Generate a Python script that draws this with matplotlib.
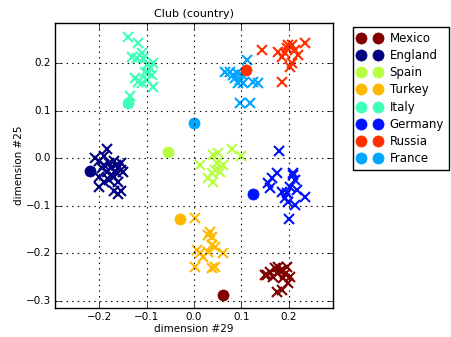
import matplotlib
matplotlib.use("Agg")
import matplotlib.pyplot as plt
import numpy as np

# country order in the legend
countries = ["Mexico", "England", "Spain", "Turkey", "Italy", "Germany", "Russia", "France"]
# position on the jet colormap (0..7 of 8 steps)
color_idx = [7, 0, 4, 5, 3, 1, 6, 2]

# country centroids (dimension #29, dimension #25)
center_x = [0.061, -0.22, -0.055, -0.03, -0.14, 0.124, 0.11, 0.0]
center_y = [-0.288, -0.027, 0.013, -0.127, 0.115, -0.075, 0.185, 0.074]

# clubs per country
mexico_x = [0.15, 0.16, 0.171, 0.178, 0.188, 0.196, 0.175, 0.155, 0.188, 0.203, 0.199, 0.175, 0.186, 0.167, 0.182, 0.193]
mexico_y = [-0.246, -0.24, -0.231, -0.229, -0.235, -0.229, -0.242, -0.245, -0.252, -0.25, -0.263, -0.281, -0.277, -0.25, -0.238, -0.244]

england_x = [-0.21, -0.2, -0.19, -0.185, -0.18, -0.175, -0.17, -0.165, -0.16, -0.155, -0.15, -0.2, -0.195,
             -0.19, -0.2, -0.18, -0.17, -0.16, -0.17, -0.16, -0.155, -0.185, -0.175, -0.165, -0.19, -0.155]
england_y = [0.0, -0.005, 0.005, 0.02, -0.01, -0.02, -0.005, -0.015, -0.02, -0.025, -0.03, -0.04, -0.02,
             -0.05, -0.06, -0.045, -0.04, -0.05, -0.07, -0.075, -0.07, -0.03, -0.035, -0.03, -0.015, -0.01]

spain_x = [0.013, 0.04, 0.05, 0.08, 0.1, 0.049, 0.061, 0.038, 0.03, 0.04, 0.055, 0.045]
spain_y = [-0.015, 0.006, 0.01, 0.02, 0.005, -0.01, -0.015, -0.032, -0.042, -0.05, -0.03, -0.025]

turkey_x = [0.002, 0.034, 0.038, 0.03, 0.038, 0.006, 0.013, 0.019, 0.03, 0.061, 0.002, 0.038, 0.044, 0.044]
turkey_y = [-0.126, -0.155, -0.166, -0.162, -0.183, -0.193, -0.2, -0.208, -0.198, -0.2, -0.229, -0.231, -0.229, -0.187]

italy_x = [-0.14, -0.118, -0.11, -0.131, -0.12, -0.108, -0.099, -0.087, -0.093, -0.097, -0.089,
           -0.104, -0.125, -0.118, -0.11, -0.087, -0.135, -0.1]
italy_y = [0.254, 0.241, 0.22, 0.212, 0.21, 0.21, 0.195, 0.2, 0.19, 0.179, 0.174,
           0.18, 0.168, 0.16, 0.157, 0.149, 0.13, 0.164]

germany_x = [0.18, 0.175, 0.165, 0.157, 0.161, 0.186, 0.196, 0.209, 0.214, 0.203, 0.218, 0.235,
             0.192, 0.199, 0.214, 0.2, 0.21]
germany_y = [0.015, -0.032, -0.042, -0.053, -0.063, -0.071, -0.074, -0.032, -0.046, -0.061, -0.067, -0.082,
             -0.084, -0.092, -0.099, -0.128, -0.035]

russia_x = [0.144, 0.178, 0.186, 0.197, 0.207, 0.214, 0.22, 0.207, 0.203, 0.235, 0.186, 0.199, 0.192]
russia_y = [0.227, 0.223, 0.212, 0.231, 0.237, 0.227, 0.216, 0.2, 0.191, 0.242, 0.16, 0.237, 0.22]

france_x = [0.112, 0.066, 0.076, 0.091, 0.087, 0.097, 0.104, 0.093, 0.125, 0.135, 0.097, 0.118, 0.101, 0.082]
france_y = [0.206, 0.181, 0.181, 0.178, 0.168, 0.164, 0.157, 0.157, 0.16, 0.157, 0.116, 0.116, 0.174, 0.174]

clubs_x = [mexico_x, england_x, spain_x, turkey_x, italy_x, germany_x, russia_x, france_x]
clubs_y = [mexico_y, england_y, spain_y, turkey_y, italy_y, germany_y, russia_y, france_y]

plt.style.use("classic")
plt.rcParams["font.family"] = "DejaVu Sans"

fig = plt.figure(figsize=(4.51, 3.37), dpi=100, facecolor="white")
ax = fig.add_axes([55 / 451, 29 / 337, 278 / 451, 285 / 337])

colors = plt.cm.jet(np.linspace(0, 1, 8))

# clubs first, centroids on top
for i in range(len(countries)):
    ax.plot(clubs_x[i], clubs_y[i], "x", color=colors[color_idx[i]],
            markersize=7.5, markeredgewidth=1.5)

handles = []
for i, name in enumerate(countries):
    h, = ax.plot(center_x[i], center_y[i], "o", color=colors[color_idx[i]],
                 markeredgecolor=colors[color_idx[i]], markersize=8, label=name)
    handles.append(h)

ax.set_xlim(-0.294, 0.294)
ax.set_ylim(-0.315, 0.284)
ax.set_xticks([-0.2, -0.1, 0.0, 0.1, 0.2])
ax.set_yticks([-0.3, -0.2, -0.1, 0.0, 0.1, 0.2])
ax.grid(True, color="k", linestyle=":", linewidth=0.8)
ax.tick_params(labelsize=7.5, pad=3)

ax.set_title("Club (country)", fontsize=8, pad=4)
ax.set_xlabel("dimension #29", fontsize=7.5, labelpad=1)
ax.set_ylabel("dimension #25", fontsize=7.5, labelpad=1)

fig.legend(handles=handles, loc="upper left", bbox_to_anchor=(353 / 451, 1 - 27 / 337),
           numpoints=2, fontsize=8.5, borderaxespad=0, fancybox=False,
           handlelength=2, handletextpad=0.7, labelspacing=0.36)

fig.savefig("out.png", dpi=100, facecolor="white")
